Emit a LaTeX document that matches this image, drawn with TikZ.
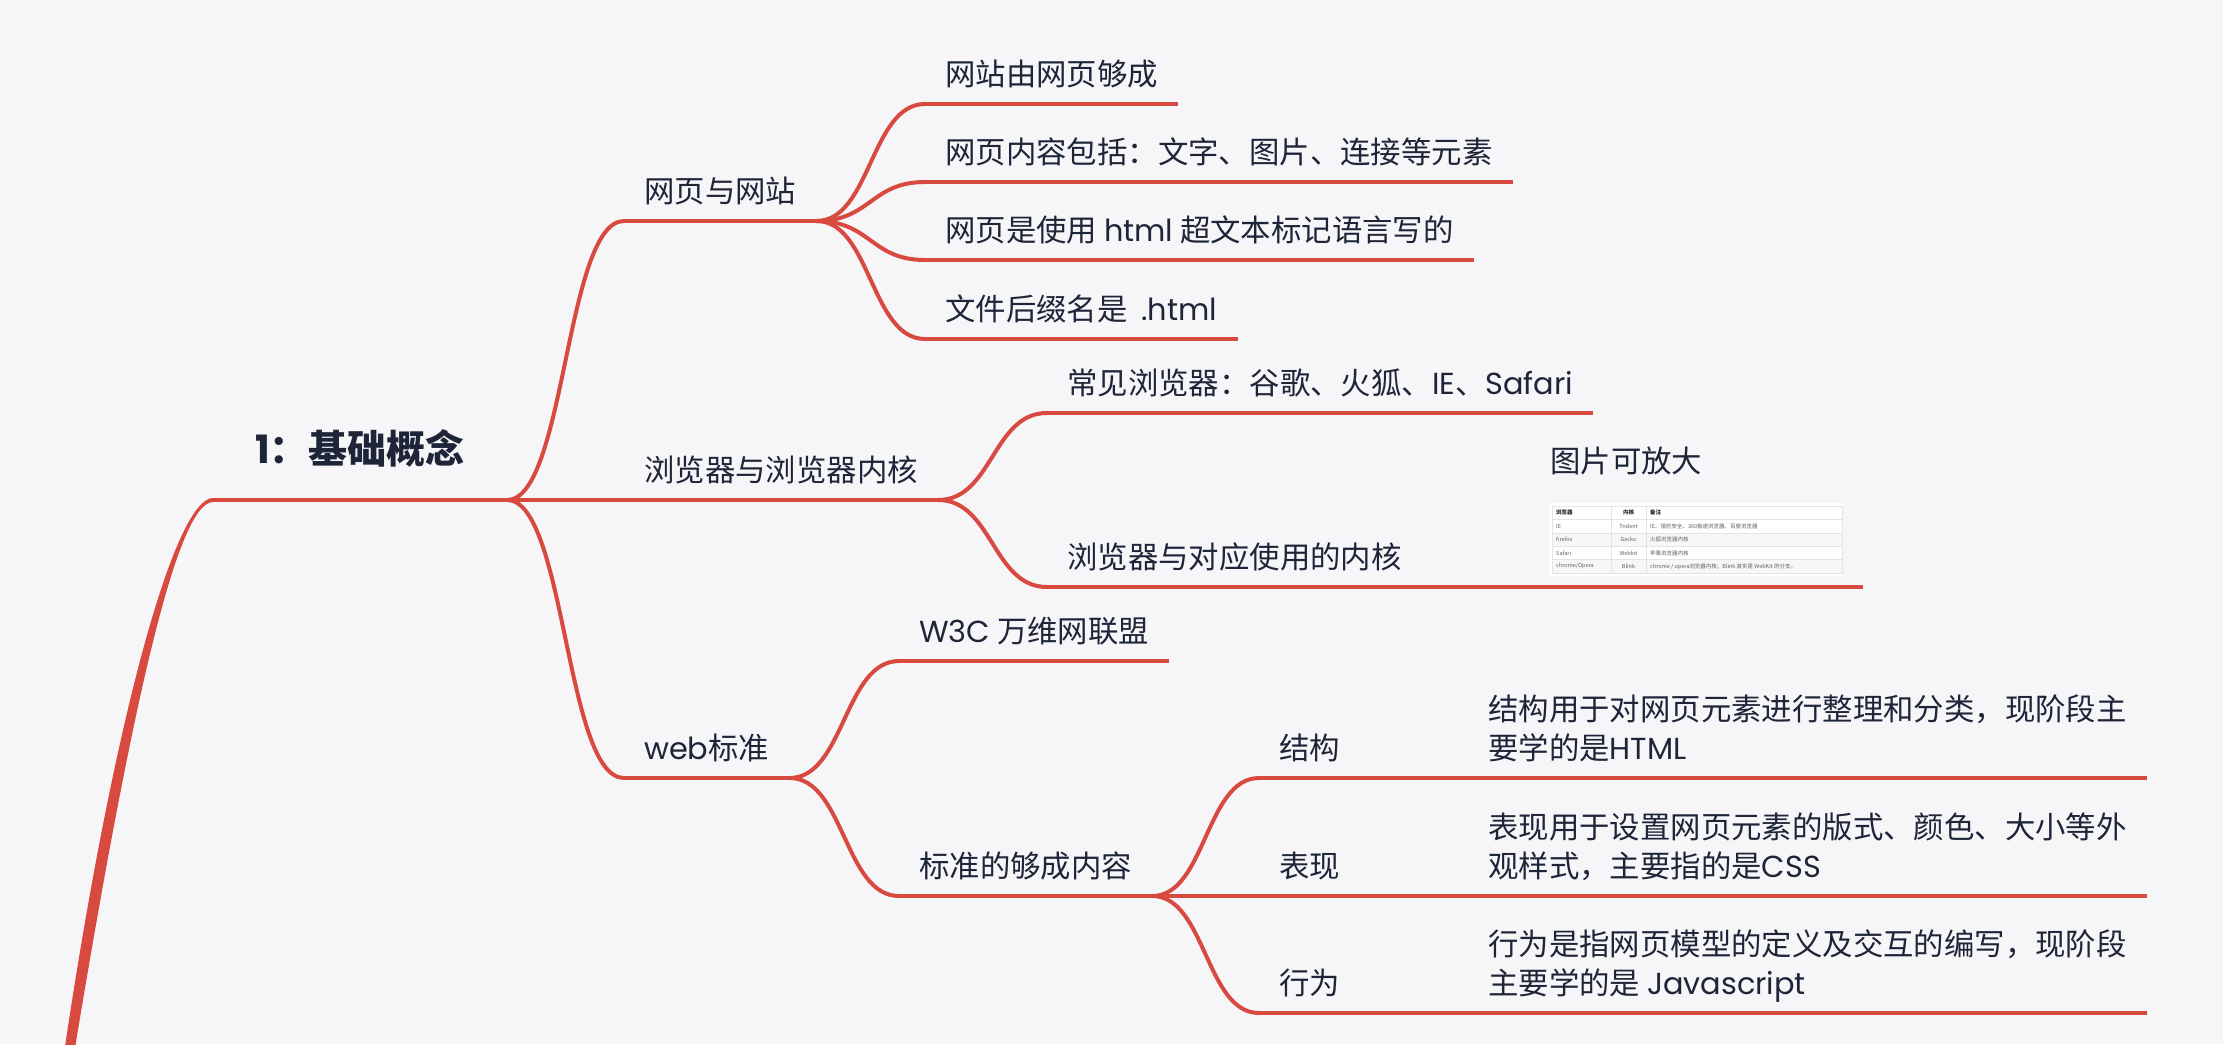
\documentclass[tikz,border=0pt]{standalone}
\usepackage{fontspec}
\setmainfont{Noto Sans CJK SC}
\newfontfamily\enfont{Poppins}
\newcommand{\en}[1]{{\enfont #1}}
\usepackage{xcolor}
\usetikzlibrary{positioning,calc}

\definecolor{mapred}{HTML}{D84A3F}
\definecolor{ink}{HTML}{1E2538}
\definecolor{paper}{HTML}{F6F6F9}
\definecolor{tabline}{HTML}{E4E4E4}
\definecolor{tabshade}{HTML}{F7F7F7}

\begin{document}
\begin{tikzpicture}[
    x = 1pt, y = -1pt,
    topic/.style = {anchor=south west, inner xsep=20pt, inner ysep=18pt, text depth=0pt,
                    text=ink, align=left, font=\fontsize{30.4}{39}\selectfont},
    root/.style = {topic, inner xsep=42pt, inner ysep=36pt, font=\fontsize{39}{46}\selectfont\bfseries},
    branch/.style = {draw=mapred, line width=4pt},
    link/.style = {branch, to path={let \p1=(\tikztostart), \p2=(\tikztotarget), \n1={0.5*(\x2-\x1)}
                   in .. controls +(\n1,0) and +(-\n1,0) .. (\tikztotarget)}},
    cell/.style = {anchor=west, inner sep=0pt, text=gray!75!black, font=\fontsize{5.5}{6}\selectfont}
]

\useasboundingbox[fill=paper] (0,0) rectangle (2223,1044);

% topics
\node[root] (root) at (213,500) {\en{1}：基础概念};

\node[topic] (web) at (624,221) {网页与网站};
\node[topic] (brw) at (624,500) {浏览器与浏览器内核};
\node[topic] (std) at (624,778) {\en{web}标准};

\node[topic] (w1) at (925,104) {网站由网页够成};
\node[topic] (w2) at (925,182) {网页内容包括：文字、图片、连接等元素};
\node[topic] (w3) at (925,260) {网页是使用 \en{html} 超文本标记语言写的};
\node[topic] (w4) at (925,339) {文件后缀名是\hspace{14pt}\en{.html}};

\node[topic] (b1) at (1047,413) {常见浏览器：谷歌、火狐、\en{IE}、\en{Safari}};
\node[topic] (b2) at (1047,587) {浏览器与对应使用的内核};
\node[topic, minimum width=333pt, minimum height=84pt, inner ysep=11pt] (pic) at (1530,587) {};
\node[topic, inner sep=0pt, above=30pt of pic.north west, anchor=base west, xshift=20pt] (piclbl) {图片可放大};

\node[topic] (c1) at (899,661) {\en{W3C} 万维网联盟};
\node[topic] (c2) at (899,896) {标准的够成内容};

\node[topic] (s1) at (1259,778) {结构};
\node[topic] (s2) at (1259,896) {表现};
\node[topic] (s3) at (1259,1013) {行为};

\node[topic] (t1) at (1468,778) {结构用于对网页元素进行整理和分类，现阶段主\\要学的是\en{HTML}};
\node[topic] (t2) at (1468,896) {表现用于设置网页元素的版式、颜色、大小等外\\观样式，主要指的是\en{CSS}};
\node[topic] (t3) at (1468,1013) {行为是指网页模型的定义及交互的编写，现阶段\\主要学的是 \en{Javascript}};

% tail of the main branch
\coordinate (tail) at (68,1060);
\fill[mapred] ([yshift=2pt]root.south west) .. controls +(-38,0) and +(50,-340) .. ([xshift=-5pt]tail)
    -- ([xshift=5pt]tail) .. controls +(56,-340) and +(-37,0) .. ([yshift=-2pt]root.south west) -- cycle;

% underlines
\draw[branch] (root.south west) -- (root.south east);
\draw[branch] (web.south west) -- (web.south east);
\draw[branch] (brw.south west) -- (brw.south east);
\draw[branch] (std.south west) -- (std.south east);
\draw[branch] (w1.south west) -- (w1.south east);
\draw[branch] (w2.south west) -- (w2.south east);
\draw[branch] (w3.south west) -- (w3.south east);
\draw[branch] (w4.south west) -- (w4.south east);
\draw[branch] (b1.south west) -- (b1.south east);
\draw[branch] (b2.south west) -- (b2.south east);
\draw[branch] (pic.south west) -- (pic.south east);
\draw[branch] (c1.south west) -- (c1.south east);
\draw[branch] (c2.south west) -- (c2.south east);
\draw[branch] (s1.south west) -- (s1.south east);
\draw[branch] (s2.south west) -- (s2.south east);
\draw[branch] (s3.south west) -- (s3.south east);
\draw[branch] (t1.south west) -- (t1.south east);
\draw[branch] (t2.south west) -- (t2.south east);
\draw[branch] (t3.south west) -- (t3.south east);

% connectors
\draw[link] (root.south east) to (web.south west);
\draw[branch] (root.south east) -- (brw.south west);
\draw[link] (root.south east) to (std.south west);

\draw[link] (web.south east) to (w1.south west);
\draw[link] (web.south east) to (w2.south west);
\draw[link] (web.south east) to (w3.south west);
\draw[link] (web.south east) to (w4.south west);

\draw[link] (brw.south east) to (b1.south west);
\draw[link] (brw.south east) to (b2.south west);
\draw[branch] (b2.south east) -- (pic.south west);

\draw[link] (std.south east) to (c1.south west);
\draw[link] (std.south east) to (c2.south west);

\draw[link] (c2.south east) to (s1.south west);
\draw[link] (c2.south east) to (s2.south west);
\draw[link] (c2.south east) to (s3.south west);

\draw[branch] (s1.south east) -- (t1.south west);
\draw[branch] (s2.south east) -- (t2.south west);
\draw[branch] (s3.south east) -- (t3.south west);

% the small table inside the picture topic
\begin{scope}[shift={(1552,506)}]
\fill[white] (-2,-3) rectangle (291,70);
\fill[tabshade] (0,26.8) rectangle (290,40.2);
\fill[tabshade] (0,53.6) rectangle (290,67);
\draw[tabline, line width=0.6pt] (0,0) rectangle (290,67);
\draw[tabline, line width=0.6pt] (0,13.4) -- (290,13.4);
\draw[tabline, line width=0.6pt] (0,26.8) -- (290,26.8);
\draw[tabline, line width=0.6pt] (0,40.2) -- (290,40.2);
\draw[tabline, line width=0.6pt] (0,53.6) -- (290,53.6);
\draw[tabline, line width=0.6pt] (59,0) -- (59,67);
\draw[tabline, line width=0.6pt] (94,0) -- (94,67);

\node[cell, text=gray!30!black, font=\fontsize{5.5}{6}\selectfont\bfseries] (h1) at (4,6.7) {浏览器};
\node[cell, text=gray!30!black, font=\fontsize{5.5}{6}\selectfont\bfseries, anchor=center] (h2) at (76.5,6.7) {内核};
\node[cell, text=gray!30!black, font=\fontsize{5.5}{6}\selectfont\bfseries] (h3) at (98,6.7) {备注};

\node[cell] (r1a) at (4,20.1) {IE};
\node[cell, anchor=center] (r1b) at (76.5,20.1) {Trident};
\node[cell] (r1c) at (98,20.1) {IE、猎豹安全、360极速浏览器、百度浏览器};
\node[cell] (r2a) at (4,33.5) {firefox};
\node[cell, anchor=center] (r2b) at (76.5,33.5) {Gecko};
\node[cell] (r2c) at (98,33.5) {火狐浏览器内核};
\node[cell] (r3a) at (4,46.9) {Safari};
\node[cell, anchor=center] (r3b) at (76.5,46.9) {Webkit};
\node[cell] (r3c) at (98,46.9) {苹果浏览器内核};
\node[cell] (r4a) at (4,60.3) {chrome/Opera};
\node[cell, anchor=center] (r4b) at (76.5,60.3) {Blink};
\node[cell] (r4c) at (98,60.3) {chrome / opera浏览器内核。Blink 其实是 WebKit 的分支。};
\end{scope}

\end{tikzpicture}
\end{document}
